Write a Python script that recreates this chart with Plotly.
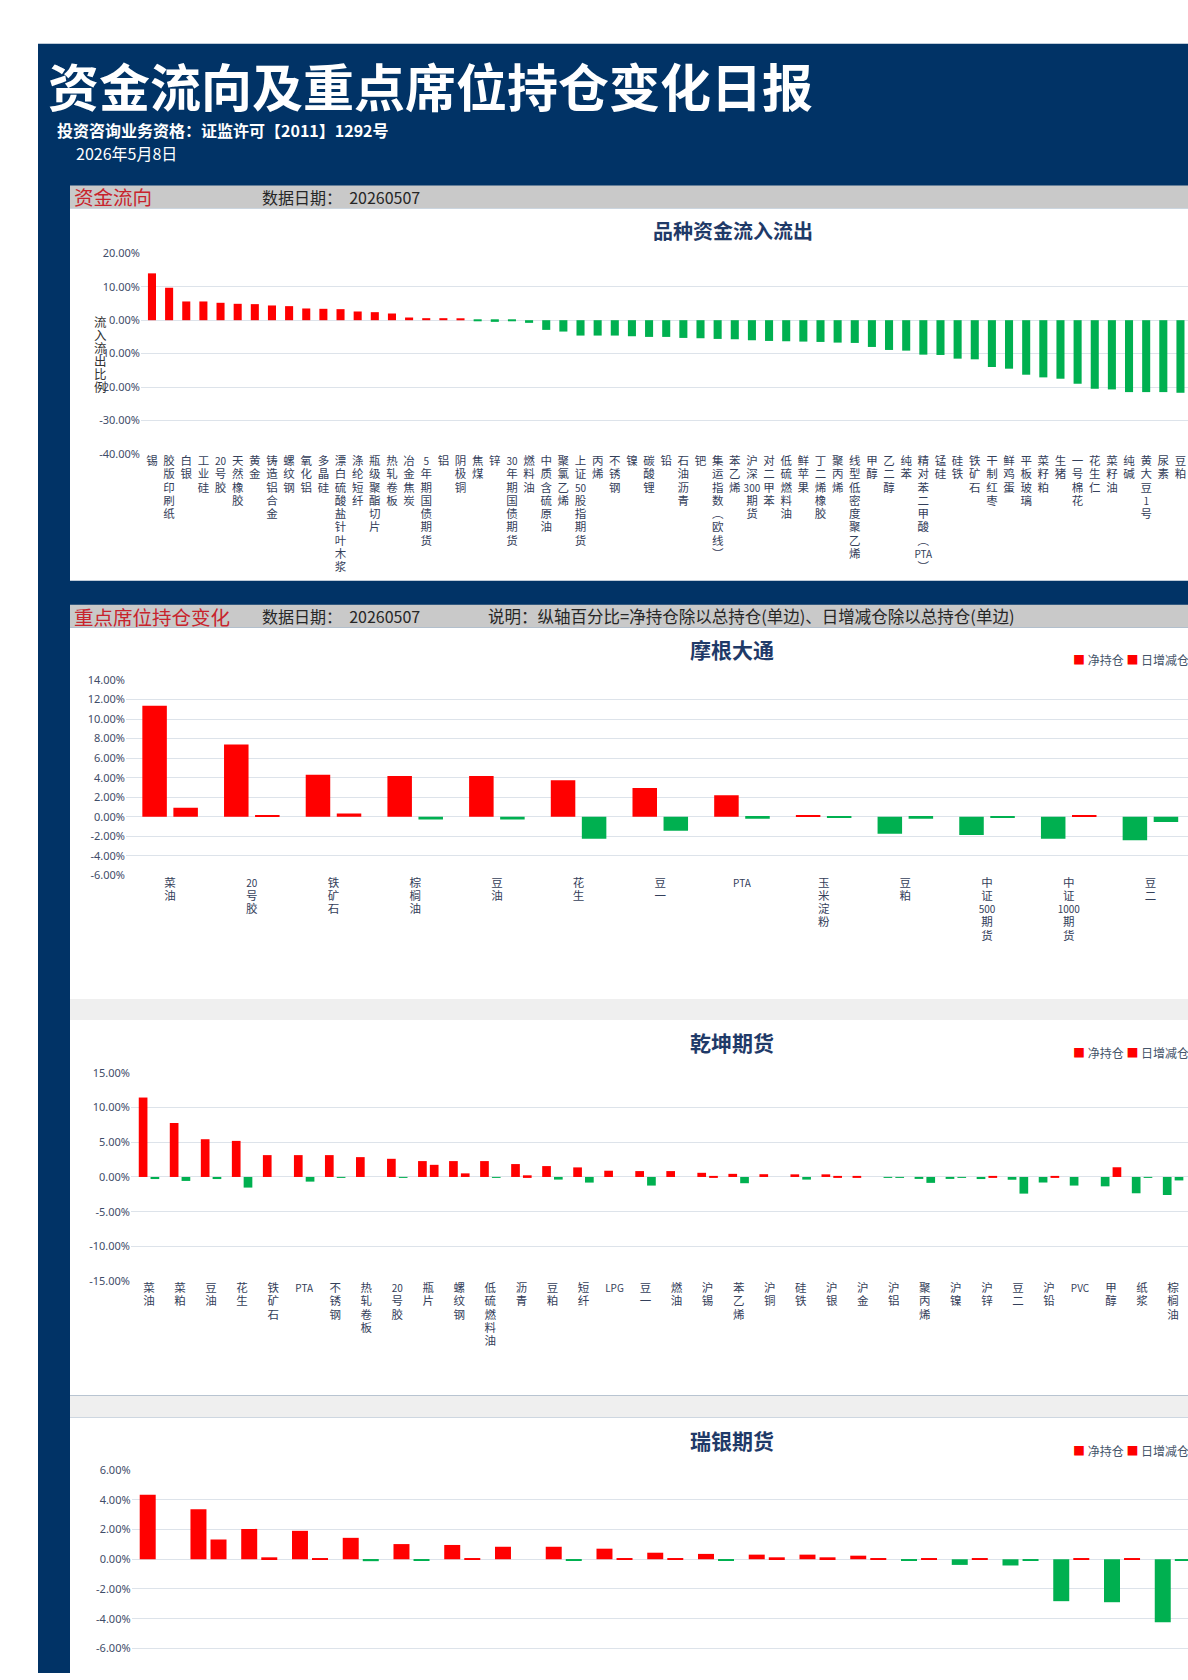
import plotly.graph_objects as go

W, H = 1188, 1680

# ---------------- data ----------------
flow_names = ["锡", "胶版印刷纸", "白银", "工业硅", "20号胶", "天然橡胶", "黄金", "铸造铝合金", "螺纹钢", "氧化铝",
              "多晶硅", "漂白硫酸盐针叶木浆", "涤纶短纤", "瓶级聚酯切片", "热轧卷板", "冶金焦炭", "5年期国债期货", "铝",
              "阴极铜", "焦煤", "锌", "30年期国债期货", "燃料油", "中质含硫原油", "聚氯乙烯", "上证50股指期货", "丙烯",
              "不锈钢", "镍", "碳酸锂", "铅", "石油沥青", "钯", "集运指数(欧线)", "苯乙烯", "沪深300期货", "对二甲苯",
              "低硫燃料油", "鲜苹果", "丁二烯橡胶", "聚丙烯", "线型低密度聚乙烯", "甲醇", "乙二醇", "纯苯",
              "精对苯二甲酸(PTA)", "锰硅", "硅铁", "铁矿石", "干制红枣", "鲜鸡蛋", "平板玻璃", "菜籽粕", "生猪",
              "一号棉花", "花生仁", "菜籽油", "纯碱", "黄大豆1号", "尿素", "豆粕"]
flow_values = [14.0, 9.7, 5.6, 5.6, 5.2, 4.9, 4.8, 4.4, 4.2, 3.5,
               3.4, 3.3, 2.6, 2.4, 2.0, 0.8, 0.6, 0.6, 0.5, -0.1,
               -0.5, -0.2, -0.8, -2.9, -3.4, -4.6, -4.6, -4.6, -4.8, -5.0,
               -5.0, -5.3, -5.4, -5.6, -5.7, -6.0, -6.2, -6.3, -6.4, -6.5,
               -6.7, -6.8, -8.0, -8.9, -9.1, -10.3, -10.4, -11.5, -11.7, -14.0,
               -14.5, -16.3, -17.1, -17.5, -19.0, -20.5, -20.7, -21.5, -21.5, -21.5, -21.7]
flow_ticks = [20, 10, 0, -10, -20, -30, -40]

jpm_names = ["菜油", "20号胶", "铁矿石", "棕榈油", "豆油", "花生", "豆一", "PTA", "玉米淀粉", "豆粕",
             "中证500期货", "中证1000期货", "豆二"]
jpm_net = [11.36, 7.39, 4.30, 4.17, 4.17, 3.73, 2.95, 2.20, 0.17, -1.73, -1.86, -2.24, -2.40]
jpm_chg = [0.92, 0.17, 0.34, -0.27, -0.27, -2.24, -1.42, -0.20, -0.07, -0.20, -0.10, 0.17, -0.54]
jpm_ticks = [14, 12, 10, 8, 6, 4, 2, 0, -2, -4, -6]

qk_names = ["菜油", "菜粕", "豆油", "花生", "铁矿石", "PTA", "不锈钢", "热轧卷板", "20号胶", "瓶片",
            "螺纹钢", "低硫燃料油", "沥青", "豆粕", "短纤", "LPG", "豆一", "燃油", "沪锡", "苯乙烯",
            "沪铜", "硅铁", "沪银", "沪金", "沪铝", "聚丙烯", "沪镍", "沪锌", "豆二", "沪铅",
            "PVC", "甲醇", "纸浆", "棕榈油"]
qk_net = [11.45, 7.78, 5.44, 5.20, 3.15, 3.15, 3.15, 2.86, 2.62, 2.29,
          2.29, 2.29, 1.86, 1.57, 1.38, 0.90, 0.85, 0.85, 0.60, 0.45,
          0.40, 0.38, 0.38, 0.15, -0.10, -0.20, -0.22, -0.30, -0.40, -0.80,
          -1.24, -1.35, -2.35, -2.60]
qk_chg = [-0.30, -0.57, -0.30, -1.53, 0.0, -0.67, -0.10, 0.0, -0.10, 1.75,
          0.52, -0.10, 0.24, -0.38, -0.81, 0.0, -1.24, 0.0, 0.10, -0.90,
          0.0, -0.38, 0.10, 0.0, -0.10, -0.85, -0.10, 0.15, -2.40, 0.15,
          0.0, 1.40, -0.10, -0.50]
qk_ticks = [15, 10, 5, 0, -5, -10, -15]

# category names of this panel lie below the visible page edge (not readable)
ubs_names = ["品种%02d" % i for i in range(1, 22)]
ubs_net = [4.33, 3.36, 2.04, 1.91, 1.44, 1.02, 0.96, 0.84, 0.84, 0.71,
           0.44, 0.36, 0.31, 0.31, 0.24, -0.07, -0.38, -0.42, -2.82, -2.89, -4.24]
ubs_chg = [0.0, 1.33, 0.13, 0.07, -0.13, -0.07, 0.07, 0.0, -0.07, 0.07,
           0.07, -0.07, 0.13, 0.13, 0.07, 0.07, 0.07, -0.07, 0.07, 0.07, -0.07]
ubs_ticks = [6, 4, 2, 0, -2, -4, -6, -8]

RED = "#ff0000"
GREEN = "#00b050"
BLUE = "#013366"
NAVY_TXT = "#1f3a68"
TICK_C = "#3f4d69"
GRID_C = "#dde3ea"
CJK = "Noto Sans CJK SC"


def px(x):
    return x / W


def py(y):
    return 1 - y / H


def vlabel(s, glyph=11.5):
    out, buf = [], ""
    for ch in s:
        if ch.isascii() and ch.isalnum():
            buf += ch
            continue
        if buf:
            out.append(buf)
            buf = ""
        if ch == "(":
            out.append("︵")
        elif ch == ")":
            out.append("︶")
        else:
            out.append(ch)
    if buf:
        out.append(buf)
    return "<br>".join("<span style='font-size:%gpx'>%s</span>" % (glyph if not t.isascii() else glyph - 1.5, t)
                       for t in out)


def colors(vals):
    return [RED if v >= 0 else GREEN for v in vals]


def pct(vals):
    return ["%.2f%%" % v for v in vals]


fig = go.Figure()

# chart 1
fig.add_trace(go.Bar(x=flow_names, y=flow_values, marker=dict(color=colors(flow_values), line=dict(width=0)),
                     width=0.47, xaxis="x", yaxis="y", name="流入流出比例"))
# chart 2
fig.add_trace(go.Bar(x=jpm_names, y=jpm_net, marker=dict(color=colors(jpm_net), line=dict(width=0)),
                     width=0.30, offset=-0.34, xaxis="x2", yaxis="y2", name="净持仓"))
fig.add_trace(go.Bar(x=jpm_names, y=jpm_chg, marker=dict(color=colors(jpm_chg), line=dict(width=0)),
                     width=0.30, offset=0.04, xaxis="x2", yaxis="y2", name="日增减仓"))
# chart 3
fig.add_trace(go.Bar(x=qk_names, y=qk_net, marker=dict(color=colors(qk_net), line=dict(width=0)),
                     width=0.28, offset=-0.33, xaxis="x3", yaxis="y3", name="净持仓"))
fig.add_trace(go.Bar(x=qk_names, y=qk_chg, marker=dict(color=colors(qk_chg), line=dict(width=0)),
                     width=0.28, offset=0.05, xaxis="x3", yaxis="y3", name="日增减仓"))
# chart 4
fig.add_trace(go.Bar(x=ubs_names, y=ubs_net, marker=dict(color=colors(ubs_net), line=dict(width=0)),
                     width=0.315, offset=-0.355, xaxis="x4", yaxis="y4", name="净持仓"))
fig.add_trace(go.Bar(x=ubs_names, y=ubs_chg, marker=dict(color=colors(ubs_chg), line=dict(width=0)),
                     width=0.315, offset=0.04, xaxis="x4", yaxis="y4", name="日增减仓"))

cat_font = dict(family=CJK, size=10.2, color="#34405a")
tick_font = dict(family="Noto Sans, " + CJK, size=11, color=TICK_C)


def xax(domain_left, rng, names, anchor, show=True):
    return dict(domain=[px(domain_left), 1], anchor=anchor, type="category", range=rng,
                tickmode="array", tickvals=names, ticktext=[vlabel(n) for n in names],
                tickangle=0, showgrid=False, zeroline=False, showline=False, ticks="",
                showticklabels=show, tickfont=cat_font, fixedrange=True)


def yax(top, bottom, rng, ticks, anchor):
    return dict(domain=[py(bottom), py(top)], anchor=anchor, range=rng, tickmode="array",
                tickvals=ticks, ticktext=pct(ticks), showgrid=True, gridcolor=GRID_C, gridwidth=1,
                zeroline=False, showline=False, ticks="", tickfont=tick_font, fixedrange=True)


fig.update_layout(
    width=W, height=H, margin=dict(l=0, r=0, t=0, b=0, pad=0),
    paper_bgcolor="white", plot_bgcolor="rgba(0,0,0,0)", showlegend=False, barmode="group",
    xaxis=xax(141, [-0.64, 60.44], flow_names, "y"),
    yaxis=yax(247.5, 450, [-40, 20], flow_ticks, "x"),
    xaxis2=xax(126, [-0.54, 12.46], jpm_names, "y2"),
    yaxis2=yax(678, 875.3, [-6, 14], jpm_ticks, "x2"),
    xaxis3=xax(131, [-0.58, 33.48], qk_names, "y3"),
    yaxis3=yax(1074.5, 1284.5, [-15, 15], qk_ticks, "x3"),
    xaxis4=xax(131.6, [-0.515, 20.3], ubs_names, "y4", show=False),
    yaxis4=yax(1475.2, 1680, [-7.65, 6], ubs_ticks, "x4"),
)

shapes = []


def rect(x0, y0, x1, y1, color):
    shapes.append(dict(type="rect", xref="paper", yref="paper", x0=px(x0), x1=px(x1), y0=py(y1), y1=py(y0),
                       fillcolor=color, line=dict(width=0), layer="below"))


rect(38, 36, 1188, 1680, BLUE)
rect(70, 179, 1188, 202, "#c9c9c9")
rect(70, 202, 1188, 578, "white")
rect(70, 602, 1188, 625, "#c9c9c9")
rect(70, 625, 1188, 1000, "white")
rect(70, 1000, 1188, 1021, "#efefef")
rect(70, 1021, 1188, 1400, "white")
rect(70, 1400, 1188, 1422, "#efefef")
rect(70, 1422, 1188, 1680, "white")
fig.update_layout(shapes=shapes)

ann = []


def text(x, y, t, size, color, xanchor="left", bold=False, family=CJK):
    ann.append(dict(xref="paper", yref="paper", x=px(x), y=py(y), text=("<b>%s</b>" % t) if bold else t,
                    showarrow=False, xanchor=xanchor, yanchor="middle",
                    font=dict(family=family, size=size, color=color)))


text(46, 78, "资金流向及重点席位持仓变化日报", 51, "white", bold=True)
text(55, 123, "投资咨询业务资格：证监许可【2011】1292号", 16, "white", bold=True)
text(74, 146, "2026年5月8日", 16, "white")

text(72, 190.5, "资金流向", 19.5, "#c8232c")
text(260, 190.5, "数据日期：  20260507", 16, "#262626")
text(733, 225, "品种资金流入流出", 20, NAVY_TXT, xanchor="center", bold=True)
ylab = "<br>".join("<span style='font-size:12.5px'>%s</span>" % c for c in "流入流出比例")
text(100, 349, ylab, 10, "#333333", xanchor="center")

text(72, 613.5, "重点席位持仓变化", 19.5, "#c8232c")
text(260, 613.5, "数据日期：  20260507", 16, "#262626")
text(486, 613.5, "说明：纵轴百分比=净持仓除以总持仓(单边)、日增减仓除以总持仓(单边)", 16.5, "#262626")

legend_txt = ("<span style='color:#ff0000'>■</span> 净持仓 "
              "<span style='color:#ff0000'>■</span> 日增减仓")
for title, ty, ly in [("摩根大通", 647, 657), ("乾坤期货", 1043, 1054), ("瑞银期货", 1445, 1455)]:
    text(732, ty, title, 21, NAVY_TXT, xanchor="center", bold=True)
    text(1071, ly, legend_txt, 12, "#44546a")

fig.update_layout(annotations=ann)

fig.write_html("out.html", config={"displayModeBar": False},
               post_script="document.body.style.margin='0';document.body.style.overflow='hidden';")
